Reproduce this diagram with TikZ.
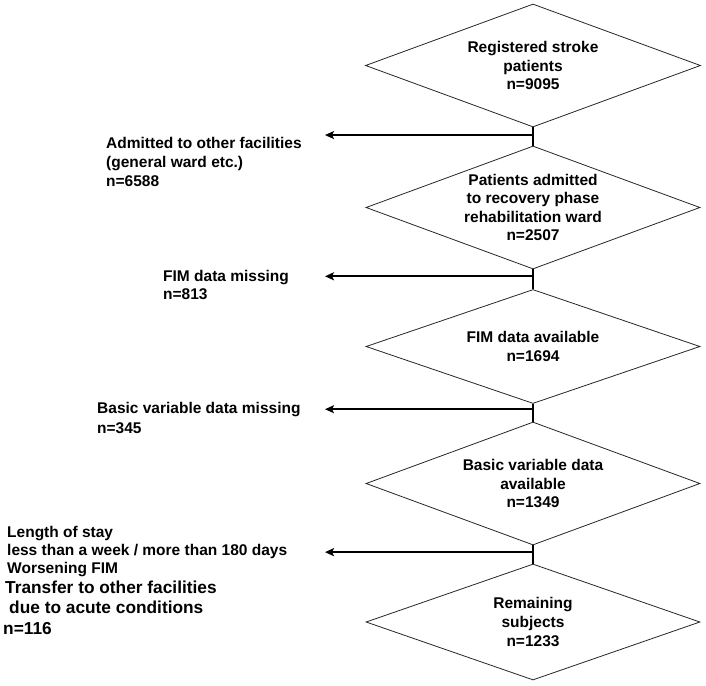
\documentclass[tikz,border=0pt]{standalone}
\usepackage{fontspec}
\setmainfont{Liberation Sans}
\usetikzlibrary{shapes.geometric,arrows.meta,calc}
\begin{document}
\begin{tikzpicture}[x=1pt,y=-1pt,
  dia/.style={diamond, draw=black!85, line width=0.8pt, inner sep=0pt, minimum width=334pt},
  dtext/.style={align=center, inner sep=0pt, font=\bfseries\fontsize{15.5}{18.6}\selectfont},
  side/.style={align=left, anchor=north west, inner sep=0pt, font=\bfseries\fontsize{15.5}{19}\selectfont},
  conn/.style={line width=2.4pt, black},
  outarrow/.style={conn, -{Stealth[length=9pt,width=8pt,inset=2pt]}}
]
\useasboundingbox (0,0) rectangle (706,685);

% diamonds
\node[dia, minimum width=335pt, minimum height=123pt,
  label={[dtext]center:Registered stroke\\patients\\n=9095}] (d1) at (533,65.5) {};
\node[dia, minimum height=123pt,
  label={[dtext]center:Patients admitted\\to recovery phase\\rehabilitation ward\\n=2507}] (d2) at (533,207.5) {};
\node[dia, minimum height=114pt,
  label={[dtext]center:FIM data available\\n=1694}] (d3) at (533,346.5) {};
\node[dia, minimum height=123pt,
  label={[dtext]center:Basic variable data\\available\\n=1349}] (d4) at (533,483.5) {};
\node[dia, minimum height=116pt,
  label={[dtext]center:Remaining\\subjects\\n=1233}] (d5) at (533,622) {};

% exclusion texts
\node[side, font=\bfseries\fontsize{15.5}{19}\selectfont] (e1) at (106,137.3)
  {Admitted to other facilities\\(general ward etc.)\\n=6588};
\node[side, font=\bfseries\fontsize{15.5}{17.5}\selectfont] (e2) at (163,270.3)
  {FIM data missing\\n=813};
\node[side, font=\bfseries\fontsize{15.5}{20}\selectfont] (e3) at (97,402.3)
  {Basic variable data missing\\n=345};
\node[side, font=\bfseries\fontsize{15.5}{18}\selectfont] (e4) at (7,526.3)
  {Length of stay\\less than a week / more than 180 days\\Worsening FIM\\[1.5pt]%
   {\fontsize{17.3}{20}\selectfont\hspace{-2pt}Transfer to other facilities}\\[2pt]%
   {\fontsize{17.3}{20}\selectfont\hspace{2pt}due to acute conditions}\\[3pt]%
   {\fontsize{17.3}{20}\selectfont\hspace{-4pt}n=116}};

% junctions and arrow tips
\coordinate (tipx) at (325,0);
\coordinate (j1) at ($(d1.south)!0.42!(d2.north)$);
\coordinate (j2) at ($(d2.south)!0.35!(d3.north)$);
\coordinate (j3) at ($(d3.south)!0.30!(d4.north)$);
\coordinate (j4) at ($(d4.south)!0.37!(d5.north)$);

% connectors
\draw[conn] (d1.south) -- (d2.north);
\draw[conn] (d2.south) -- (d3.north);
\draw[conn] (d3.south) -- (d4.north);
\draw[conn] (d4.south) -- (d5.north);

\draw[outarrow] (j1) -- (j1 -| tipx);
\draw[outarrow] (j2) -- (j2 -| tipx);
\draw[outarrow] (j3) -- (j3 -| tipx);
\draw[outarrow] (j4) -- (j4 -| tipx);
\end{tikzpicture}
\end{document}
